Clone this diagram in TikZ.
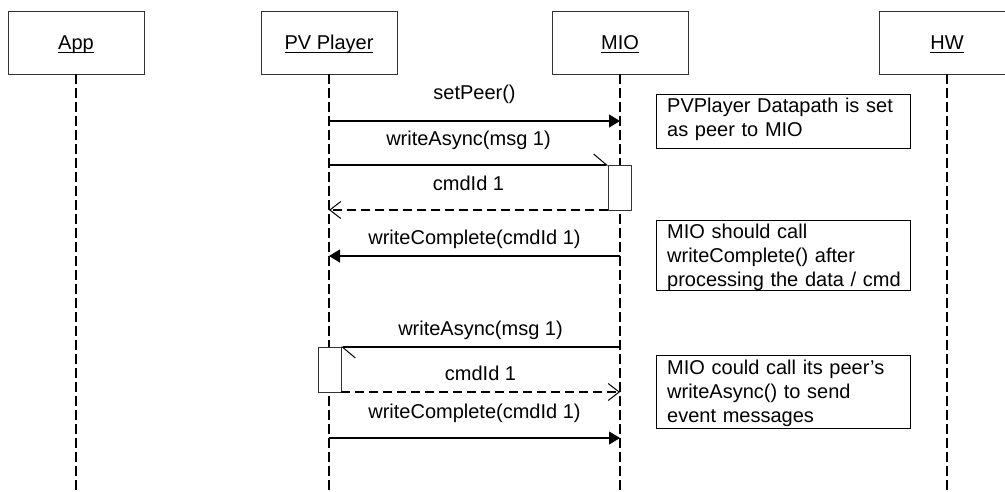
\documentclass[tikz,border=0pt]{standalone}
\usepackage{fontspec}
\setmainfont{Liberation Sans}
\usetikzlibrary{arrows.meta}
\newcommand\ulbox[1]{\setbox0=\hbox{#1}\rlap{\rule[-3.6pt]{\wd0}{1.1pt}}\box0}
\tikzset{
  every node/.style={font=\fontsize{20}{24}\selectfont},
  hdr/.style={draw=black!80, line width=1pt, fill=white, minimum width=136pt, minimum height=63pt,
              inner sep=0pt, outer sep=0pt, text height=14pt, text depth=0pt},
  lifeline/.style={line width=1.8pt, dash pattern=on 9.5pt off 4.5pt},
  actbox/.style={draw=black!80, line width=1pt, fill=white, minimum width=23pt, minimum height=45pt,
                 inner sep=0pt, outer sep=0pt},
  msg/.style={line width=1.2pt},
  sync/.style={msg, -{Triangle[length=11pt,width=13pt]}},
  ret/.style={msg, dash pattern=on 9pt off 5pt, -{Straight Barb[length=11pt,width=17pt,line width=1pt]}},
  async/.style={msg, -{Straight Barb[harpoon,length=13pt,width=22pt,line width=1pt]}},
  lbl/.style={anchor=base, inner sep=0pt},
  notebox/.style={draw=black, line width=1pt, fill=white, minimum width=254pt, inner sep=0pt,
                  outer sep=0pt, anchor=north west},
  notetext/.style={anchor=north west, inner sep=0pt, text width=240pt, align=left},
}
\begin{document}
\begin{tikzpicture}[x=1pt,y=-1pt]
\useasboundingbox (0,0) rectangle (1005,491);
\clip (0,0) rectangle (1005,491);
\fill[white] (0,0) rectangle (1005,491);

% header boxes
\node[hdr] (app) at (76,42.5) {\ulbox{App}};
\node[hdr] (pv)  at (329,42.5) {\ulbox{PV Player}};
\node[hdr] (mio) at (620,42.5) {\ulbox{MIO}};
\node[hdr] (hw)  at (947,42.5) {\ulbox{HW}};

% lifelines
\coordinate (appE) at (76,491);
\coordinate (pvE)  at (329,491);
\coordinate (mioE) at (620,491);
\coordinate (hwE)  at (947,491);
\draw[lifeline] (app.south) -- (appE);
\draw[lifeline] (pv.south) -- (pvE);
\draw[lifeline] (mio.south) -- (mioE);
\draw[lifeline] (hw.south) -- (hwE);

% activation boxes
\node[actbox] (act1) at (619.5,187.5) {};
\node[actbox] (act2) at (329.5,369.5) {};

% message end points
\coordinate (m1a) at (329,121);
\coordinate (m1b) at (620,121);
\coordinate (m2a) at (329,165);
\coordinate (m3b) at (329,210);
\coordinate (m4a) at (620,256);
\coordinate (m4b) at (329,256);
\coordinate (m5a) at (620,347);
\coordinate (m6b) at (620,392);
\coordinate (m7a) at (329,438);
\coordinate (m7b) at (620,438);

% messages
\draw[sync]  (m1a) -- (m1b);
\draw[async] (m2a) -- (act1.north west);
\draw[ret]   (act1.south west) -- (m3b);
\draw[sync]  (m4a) -- (m4b);
\draw[async] (m5a) -- (act2.north east);
\draw[ret]   (act2.south east) -- (m6b);
\draw[sync]  (m7a) -- (m7b);

% message labels
\node[lbl] (l1) at (474.5,99.3) {setPeer()};
\node[lbl] (l2) at (468.5,145.3) {writeAsync(msg 1)};
\node[lbl] (l3) at (468.5,190) {cmdId 1};
\node[lbl] (l4) at (474.5,244) {writeComplete(cmdId 1)};
\node[lbl] (l5) at (480.5,335) {writeAsync(msg 1)};
\node[lbl] (l6) at (480.5,380) {cmdId 1};
\node[lbl] (l7) at (474.5,418) {writeComplete(cmdId 1)};

% notes
\node[notebox, minimum height=54pt] (n1) at (656,94) {};
\node[notetext] (n1t) at (667,97.6) {PVPlayer Datapath is set\\as peer to MIO};
\node[notebox, minimum height=70pt] (n2) at (656,220) {};
\node[notetext] (n2t) at (667,223.6) {MIO should call\\writeComplete() after\\processing the data / cmd};
\node[notebox, minimum height=73pt] (n3) at (656,355) {};
\node[notetext] (n3t) at (667,359.6) {MIO could call its peer’s\\writeAsync() to send\\event messages};
\end{tikzpicture}
\end{document}
